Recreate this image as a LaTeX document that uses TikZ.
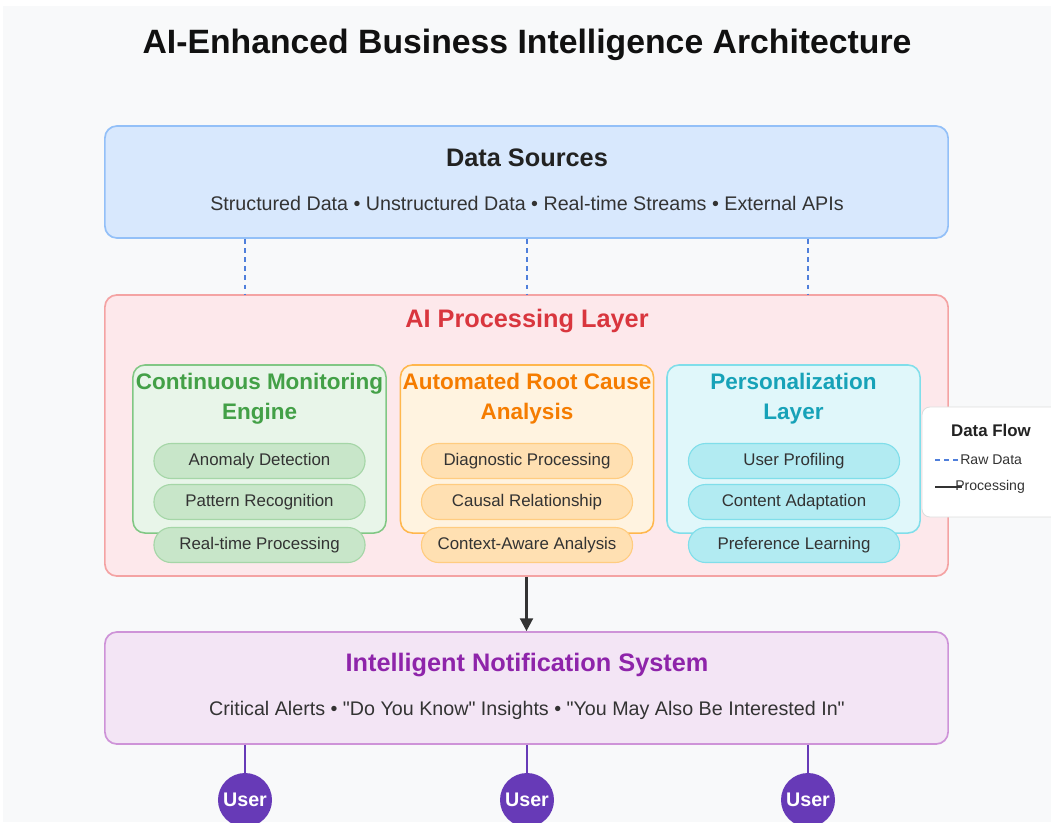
\documentclass[tikz,border=0pt]{standalone}
\usepackage{fontspec}
\setmainfont{Liberation Sans}
\usepackage{tikz}
\usetikzlibrary{positioning}
\usetikzlibrary{arrows.meta,shapes}

\definecolor{pagebg}{HTML}{F8F9FA}
\definecolor{titleblack}{HTML}{111111}
\definecolor{titledark}{HTML}{222222}
\definecolor{textdark}{HTML}{333333}
\definecolor{srcfill}{HTML}{D8E8FD}
\definecolor{srcline}{HTML}{93C0F8}
\definecolor{aifill}{HTML}{FDE8EB}
\definecolor{ailine}{HTML}{F4A3A3}
\definecolor{aired}{HTML}{D9363E}
\definecolor{notefill}{HTML}{F3E5F5}
\definecolor{noteline}{HTML}{CE93D8}
\definecolor{notepurple}{HTML}{8E24AA}
\definecolor{userpurple}{HTML}{673AB7}
\definecolor{rawblue}{HTML}{4F7FDB}
\definecolor{arrowgray}{HTML}{333333}
\definecolor{modfillgreen}{HTML}{E8F5E9}
\definecolor{modlinegreen}{HTML}{81C784}
\definecolor{modtitlegreen}{HTML}{43A047}
\definecolor{pillfillgreen}{HTML}{C8E6C9}
\definecolor{pilllinegreen}{HTML}{A5D6A7}
\definecolor{modfillorange}{HTML}{FFF3E0}
\definecolor{modlineorange}{HTML}{FFB74D}
\definecolor{modtitleorange}{HTML}{F57C00}
\definecolor{pillfillorange}{HTML}{FFE0B2}
\definecolor{pilllineorange}{HTML}{FFCC80}
\definecolor{modfillcyan}{HTML}{E0F7FA}
\definecolor{modlinecyan}{HTML}{80DEEA}
\definecolor{modtitlecyan}{HTML}{17A2B8}
\definecolor{pillfillcyan}{HTML}{B2EBF2}
\definecolor{pilllinecyan}{HTML}{80DEEA}
\definecolor{legendline}{HTML}{DDDDDD}

\tikzstyle{layerbox}=[rectangle,rounded corners=0.3cm,line width=1.2pt,minimum width=21.075cm,minimum height=2.8cm,inner sep=0pt]
\tikzstyle{modulebox}=[rectangle,rounded corners=0.3cm,line width=1.1pt,minimum width=6.325cm,minimum height=4.2cm,inner sep=0pt]
\tikzstyle{pill}=[rectangle,rounded corners=0.43cm,line width=0.8pt,minimum width=5.275cm,minimum height=0.875cm,inner sep=0pt,font=\fontsize{12}{14}\selectfont,text=textdark]
\tikzstyle{layertitle}=[font=\bfseries\fontsize{18}{22}\selectfont]
\tikzstyle{layersub}=[font=\fontsize{14}{16}\selectfont,text=textdark]
\tikzstyle{moduletitle}=[font=\bfseries\fontsize{16}{21.3}\selectfont,align=center]
\tikzstyle{user}=[circle,fill=userpurple,text=white,font=\bfseries\fontsize{14}{16}\selectfont,minimum size=1.35cm,inner sep=0pt]
\tikzstyle{rawflow}=[draw=rawblue,line width=1.1pt,dash pattern=on 3.5pt off 3pt]
\tikzstyle{procflow}=[draw=arrowgray,line width=1.8pt,-{Triangle[length=3.2mm,width=3.2mm]}]
\tikzstyle{procline}=[draw=arrowgray,line width=1.4pt]
\tikzstyle{userlink}=[draw=userpurple,line width=1.2pt]
\tikzstyle{legendbox}=[rectangle,rounded corners=0.2cm,fill=white,draw=legendline,line width=0.6pt,minimum width=3.5cm,minimum height=2.75cm]
\tikzstyle{legendtext}=[font=\fontsize{10}{12}\selectfont,text=textdark,inner sep=0pt]

\begin{document}
\begin{tikzpicture}[x=0.025cm,y=-0.025cm]

 \useasboundingbox (0,0) rectangle (1051,822);
 \clip (0,0) rectangle (1051,822);
 \fill[white] (0,0) rectangle (1051,822);
 \fill[pagebg] (3,6) rectangle (1051,822);

 \node[font=\bfseries\fontsize{24}{28}\selectfont, text=titleblack] (title) at (527,45) {AI-Enhanced Business Intelligence Architecture};

 %Data Sources
 \node[layerbox, fill=srcfill, draw=srcline] (src) at (526.5,182) {};
 \node[layertitle, text=titledark] (srctitle) at (527,158) {Data Sources};
 \node[layersub] (srcsub) at (527,203) {Structured Data • Unstructured Data • Real-time Streams • External APIs};

 %AI Processing Layer
 \node[layerbox, minimum height=7.025cm, fill=aifill, draw=ailine] (ai) at (526.5,435.5) {};
 \node[layertitle, text=aired] (aititle) at (527,321) {AI Processing Layer};

 %Modules
 \foreach \x/\name/\c/\label in {259.5/mon/green/{Continuous Monitoring\\Engine}, 527/rca/orange/{Automated Root Cause\\Analysis}, 793.5/pers/cyan/{Personalization\\Layer}}
 {
   \node[modulebox, fill=modfill\c, draw=modline\c] (\name) at (\x,449) {};
   \node[moduletitle, text=modtitle\c] (\name title) at (\x,399) {\label};
 }

 \foreach \x/\y/\name/\c/\label in {259.5/461/mon1/green/Anomaly Detection, 259.5/502/mon2/green/Pattern Recognition, 259.5/545/mon3/green/Real-time Processing,
        527/461/rca1/orange/Diagnostic Processing, 527/502/rca2/orange/Causal Relationship, 527/545/rca3/orange/Context-Aware Analysis,
        794/461/pers1/cyan/User Profiling, 794/502/pers2/cyan/Content Adaptation, 794/545/pers3/cyan/Preference Learning}
        \node[pill, fill=pillfill\c, draw=pillline\c] (\name) at (\x,\y) {\label};

 %Legend
 \node[legendbox] (legend) at (992,462) {};
 \node[font=\bfseries\fontsize{12}{14}\selectfont, text=titledark] (legendtitle) at (991,430) {Data Flow};
 \node[legendtext, anchor=west] (rawlabel) at (960,460) {Raw Data};
 \coordinate (rawstart) at (935,460);
 \draw[rawflow] (rawstart) -- (rawlabel.west);
 \node[legendtext, anchor=west] (proclabel) at (955,487) {Processing};
 \coordinate (procstart) at (935,487);
 \coordinate (procend) at (962,487);
 \draw[procline] (procstart) -- (procend);

 %Intelligent Notification System
 \node[layerbox, fill=notefill, draw=noteline] (notify) at (526.5,688) {};
 \node[layertitle, text=notepurple] (notifytitle) at (527,665) {Intelligent Notification System};
 \node[layersub] (notifysub) at (527,710) {Critical Alerts • \textquotedbl Do You Know\textquotedbl{} Insights • \textquotedbl You May Also Be Interested In\textquotedbl};

 \draw[procflow] (ai.south) -- (notify.north);

 %Users
 \foreach \x/\name in {245/user1, 527/user2, 808/user3}
 {
   \node[user] (\name) at (\x,800) {User};
   \draw[userlink] (notify.south -| \name) -- (\name.north);
   \draw[rawflow] (src.south -| \name) -- (ai.north -| \name);
 }

\end{tikzpicture}
\end{document}
